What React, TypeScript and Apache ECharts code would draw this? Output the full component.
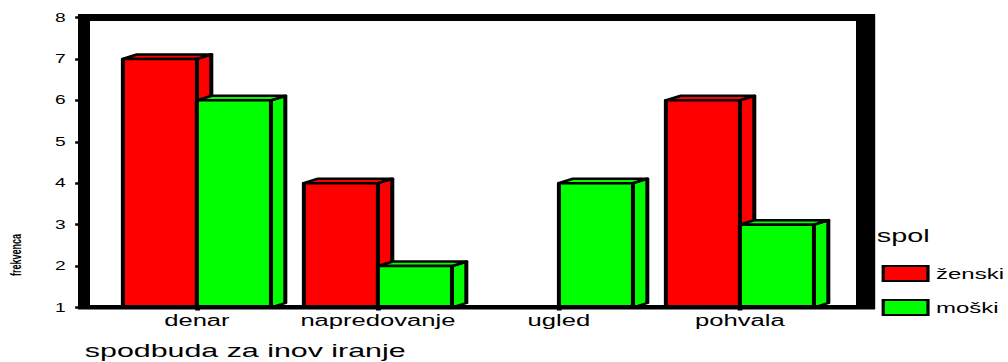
import React, { useEffect, useRef } from "react";
import * as echarts from "echarts";

// Frequencies of innovation incentives, split by gender
const categories = ["denar", "napredovanje", "ugled", "pohvala"];
const zenski = [7, 4, 1, 6];
const moski = [6, 2, 4, 3];
const seriesNames = ["ženski", "moški"];
const Y_MIN = 1;
const Y_MAX = 8;

const FONT = "Arial, 'Liberation Sans', sans-serif";
// The chart is laid out on a narrow canvas and widened horizontally by CSS.
const BASE_W = 630;
const H = 362;
const STRETCH = 1008 / BASE_W;

const BAR_FRACTION = 0.409;
const DEPTH_X = 9;
const DEPTH_Y = 4.5;

function boxRenderer(side: "left" | "right") {
  return (params: any, api: any) => {
    const idx = api.value(0);
    const v = api.value(1);
    const topPt = api.coord([idx, v]);
    const basePt = api.coord([idx, Y_MIN]);
    const band = api.size([1, 0])[0];
    const w = band * BAR_FRACTION;
    const x0 = side === "left" ? topPt[0] - w : topPt[0];
    const yT = topPt[1];
    const yB = basePt[1];
    if (yB - yT < 0.5) return null;
    const color = api.visual("color");
    const edge = { stroke: "#000", lineWidth: 2.5, lineJoin: "round" };
    return {
      type: "group",
      children: [
        {
          type: "polygon",
          shape: {
            points: [
              [x0 + w, yT],
              [x0 + w + DEPTH_X, yT - DEPTH_Y],
              [x0 + w + DEPTH_X, yB - DEPTH_Y],
              [x0 + w, yB],
            ],
          },
          style: { fill: color, ...edge },
        },
        {
          type: "polygon",
          shape: {
            points: [
              [x0, yT],
              [x0 + DEPTH_X, yT - DEPTH_Y],
              [x0 + w + DEPTH_X, yT - DEPTH_Y],
              [x0 + w, yT],
            ],
          },
          style: { fill: color, ...edge },
        },
        {
          type: "rect",
          shape: { x: x0, y: yT, width: w, height: yB - yT },
          style: { fill: color, ...edge },
        },
      ],
    };
  };
}

export default function App() {
  const ref = useRef<HTMLDivElement>(null);

  useEffect(() => {
    if (!ref.current) return;
    const chart = echarts.init(ref.current, undefined, { renderer: "svg" });
    const black = "#000";
    chart.setOption({
      animation: false,
      backgroundColor: "#fff",
      textStyle: { fontFamily: FONT },
      grid: { left: 66.5, top: 17.5, width: 452.5, height: 290, containLabel: false },
      xAxis: {
        type: "category",
        data: categories,
        boundaryGap: true,
        axisLine: { show: false },
        axisTick: {
          show: true,
          alignWithLabel: true,
          length: 3,
          lineStyle: { color: black, width: 3 },
        },
        axisLabel: { color: black, fontSize: 16, margin: 5, interval: 0, fontFamily: FONT },
        splitLine: { show: false },
      },
      yAxis: {
        type: "value",
        min: Y_MIN,
        max: Y_MAX,
        interval: 1,
        offset: 16.5,
        axisLine: { show: false },
        axisTick: { show: true, length: 3, lineStyle: { color: black, width: 2.5 } },
        axisLabel: { color: black, fontSize: 12, margin: 9, fontFamily: FONT },
        splitLine: { show: false },
      },
      legend: {
        orient: "vertical",
        left: 551,
        top: 265,
        padding: 0,
        itemGap: 17,
        itemWidth: 28,
        itemHeight: 15,
        icon: "rect",
        data: seriesNames,
        itemStyle: { borderColor: black, borderWidth: 2 },
        textStyle: { color: black, fontSize: 15, fontFamily: FONT },
      },
      graphic: [
        // chart frame: top, left, right walls and the floor line
        { type: "rect", z: 10, shape: { x: 48.75, y: 14, width: 498, height: 7 }, style: { fill: black } },
        { type: "rect", z: 10, shape: { x: 48.75, y: 14, width: 7.5, height: 295 }, style: { fill: black } },
        { type: "rect", z: 10, shape: { x: 535, y: 14, width: 12, height: 295 }, style: { fill: black } },
        { type: "rect", z: 10, shape: { x: 48.75, y: 305, width: 498, height: 4.5 }, style: { fill: black } },
        {
          type: "text",
          z: 10,
          x: 53,
          y: 341,
          style: {
            text: "spodbuda za inov iranje",
            fill: black,
            font: `19px ${FONT}`,
            textVerticalAlign: "top",
          },
        },
        {
          type: "text",
          z: 10,
          x: 548,
          y: 227,
          style: {
            text: "spol",
            fill: black,
            font: `18px ${FONT}`,
            textVerticalAlign: "top",
          },
        },
        {
          type: "text",
          z: 10,
          x: 10,
          y: 255,
          rotation: Math.PI / 2,
          style: {
            text: "frekvenca",
            fill: black,
            font: `bold 9px ${FONT}`,
            textAlign: "center",
            textVerticalAlign: "middle",
          },
        },
      ],
      series: [
        {
          name: seriesNames[0],
          type: "custom",
          itemStyle: { color: "#ff0000" },
          renderItem: boxRenderer("left"),
          data: categories.map((_, i) => [i, zenski[i]]),
          z: 2,
        },
        {
          name: seriesNames[1],
          type: "custom",
          itemStyle: { color: "#00ff00" },
          renderItem: boxRenderer("right"),
          data: categories.map((_, i) => [i, moski[i]]),
          z: 3,
        },
      ],
    });
    return () => chart.dispose();
  }, []);

  return (
    <div
      ref={ref}
      style={{
        position: "absolute",
        left: 0,
        top: 0,
        width: BASE_W,
        height: H,
        transform: `scaleX(${STRETCH})`,
        transformOrigin: "0 0",
      }}
    />
  );
}
